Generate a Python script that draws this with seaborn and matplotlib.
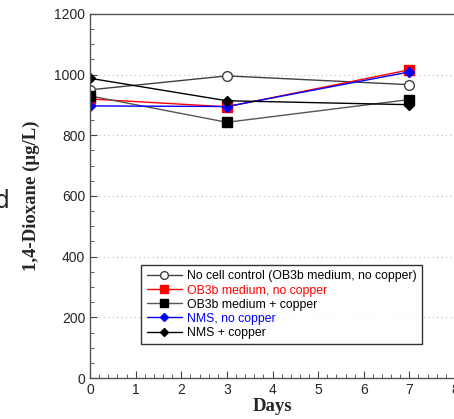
import matplotlib
matplotlib.use("Agg")
import matplotlib.pyplot as plt
import seaborn as sns
import pandas as pd
from matplotlib.ticker import MultipleLocator

days = [0, 3, 7]
series_names = [
    "No cell control (OB3b medium, no copper)",
    "OB3b medium, no copper",
    "OB3b medium + copper",
    "NMS, no copper",
    "NMS + copper",
]
no_cell = [950, 996, 967]
ob3b_no_cu = [920, 894, 1016]
ob3b_cu = [930, 843, 918]
nms_no_cu = [897, 895, 1009]
nms_cu = [988, 914, 901]
values = [no_cell, ob3b_no_cu, ob3b_cu, nms_no_cu, nms_cu]

line_colors = ["#404040", "red", "#555555", "blue", "black"]
marker_faces = ["white", "red", "black", "blue", "black"]
marker_edges = ["#404040", "red", "black", "blue", "black"]
markers = ["o", "s", "s", "D", "D"]
msizes = [7, 7, 7, 5.5, 5.5]
text_colors = ["black", "red", "black", "blue", "black"]

sns.set_style("ticks")
plt.rcParams["font.family"] = ["Liberation Sans", "DejaVu Sans"]

fig = plt.figure(figsize=(4.54, 4.19), dpi=100)
ax = fig.add_axes([90 / 454, 1 - 378 / 419, 365 / 454, 364 / 419])

for name, vals, lc, mf, me, mk, ms in zip(series_names, values, line_colors,
                                          marker_faces, marker_edges, markers, msizes):
    df = pd.DataFrame({"Days": days, "val": vals})
    sns.lineplot(data=df, x="Days", y="val", ax=ax, color=lc, linewidth=1.0,
                 marker=mk, markersize=ms, markerfacecolor=mf,
                 markeredgecolor=me, markeredgewidth=1.0, label=name)

ax.set_xlim(0, 8)
ax.set_ylim(0, 1200)
ax.xaxis.set_major_locator(MultipleLocator(1))
ax.xaxis.set_minor_locator(MultipleLocator(0.2))
ax.yaxis.set_major_locator(MultipleLocator(200))
ax.yaxis.set_minor_locator(MultipleLocator(50))
ax.tick_params(axis="both", which="both", direction="in", color="#444444",
               top=False, right=False)
ax.tick_params(which="major", length=5, width=0.8, labelsize=10)
ax.tick_params(which="minor", length=3, width=0.6)
ax.yaxis.grid(True, which="major", linestyle=(0, (1, 3)), color="#bbbbbb", linewidth=0.8)
ax.set_axisbelow(True)
for s in ["left", "bottom", "top"]:
    ax.spines[s].set_color("#555555")
    ax.spines[s].set_linewidth(1.0)
ax.spines["right"].set_visible(False)

ax.set_xlabel("Days", family=["Liberation Serif"], fontweight="bold", fontsize=13.5, labelpad=1)
ax.set_ylabel("1,4-Dioxane (\u03bcg/L)", family=["Liberation Serif"], fontweight="bold",
              fontsize=13.5, labelpad=10)

leg = ax.legend(loc="upper left", bbox_to_anchor=(51 / 365, (378 - 265) / 364),
                fontsize=8.8, frameon=True, fancybox=False, edgecolor="black",
                handlelength=2.9, handletextpad=0.4, borderpad=0.45, labelspacing=0.17,
                borderaxespad=0, markerscale=0.8)
leg.get_frame().set_linewidth(1.0)
for t, c in zip(leg.get_texts(), text_colors):
    t.set_color(c)

fig.text(-0.012, 1 - 208 / 419, "d", fontsize=17, family=["DejaVu Sans"], ha="left", va="baseline")

fig.savefig("out.png", dpi=100)
